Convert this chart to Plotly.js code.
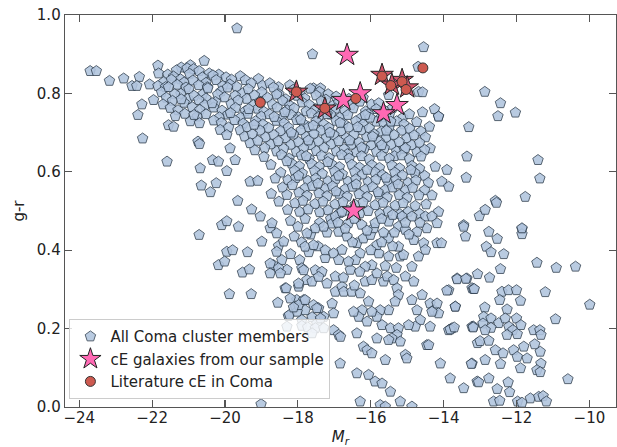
<!DOCTYPE html>
<html>
<head>
<meta charset="utf-8">
<script src="https://cdn.plot.ly/plotly-3.0.1.min.js"></script>
<style>
  html, body { margin: 0; padding: 0; background: #ffffff; }
  #chart { width: 617px; height: 447px; }
</style>
</head>
<body>
<div id="chart"></div>
<script>
// Coma cluster members: [M_r, g-r]
// Bright red sequence, including the luminous end
const redSequence = [
  [-21.84,0.871],[-20.95,0.872],[-20.57,0.883],[-21.20,0.866],
  [-23.70,0.857],[-23.53,0.857],[-21.82,0.851],[-21.33,0.859],[-21.04,0.864],[-20.86,0.862],[-20.71,0.857],[-20.43,0.851],[-20.17,0.848],
  [-22.35,0.842],[-21.57,0.848],[-21.41,0.843],[-21.22,0.836],[-20.97,0.850],[-20.62,0.841],[-20.33,0.846],[-19.97,0.841],[-19.58,0.844],[-19.82,0.835],
  [-23.17,0.832],[-22.78,0.838],[-21.68,0.829],[-21.47,0.835],[-21.12,0.828],[-20.88,0.833],[-20.52,0.827],[-20.24,0.834],[-19.87,0.823],[-19.44,0.834],[-19.08,0.837],[-19.28,0.826],
  [-22.55,0.819],[-22.42,0.819],[-22.07,0.823],[-21.84,0.819],[-21.63,0.816],[-21.31,0.822],[-21.07,0.815],[-20.72,0.821],[-20.48,0.816],[-20.06,0.819],[-19.68,0.817],[-18.97,0.820],[-18.53,0.816],[-18.22,0.821],[-17.57,0.813],[-17.38,0.813],[-18.77,0.826],
  [-21.74,0.803],[-21.55,0.816],[-21.21,0.799],[-20.99,0.811],[-20.62,0.797],[-20.47,0.813],[-20.11,0.805],[-19.93,0.815],[-19.52,0.800],[-19.36,0.811],[-18.99,0.803],[-18.67,0.815],[-18.52,0.798],[-18.13,0.809],[-17.94,0.801],[-17.66,0.812],[-17.41,0.804],[-17.17,0.798],
  [-21.96,0.783],[-21.61,0.789],[-21.38,0.798],[-21.02,0.786],[-20.85,0.794],[-20.52,0.787],[-20.20,0.797],[-20.01,0.790],[-19.72,0.794],[-19.40,0.786],[-19.19,0.795],[-18.83,0.789],[-18.58,0.797],[-18.33,0.785],[-18.02,0.794],[-17.81,0.787],[-17.50,0.795],[-17.23,0.784],[-16.95,0.792],[-16.60,0.786],[-16.21,0.789],
  [-21.70,0.772],[-21.44,0.781],[-21.12,0.776],[-20.72,0.783],[-20.55,0.770],[-20.26,0.778],[-19.83,0.773],[-19.64,0.782],[-19.22,0.770],[-19.05,0.779],[-18.70,0.772],[-18.42,0.781],[-18.22,0.769],[-17.88,0.777],[-17.69,0.771],[-17.36,0.780],[-17.05,0.768],[-16.88,0.777],[-16.55,0.770],[-16.30,0.779],[-15.98,0.772],[-15.51,0.796],[-15.78,0.775],
  [-22.28,0.772],[-21.50,0.763],[-21.29,0.757],[-20.90,0.765],[-20.69,0.758],[-20.31,0.764],[-20.08,0.756],[-19.71,0.763],[-19.44,0.755],[-19.10,0.761],[-18.93,0.753],[-18.57,0.764],[-18.29,0.757],[-18.10,0.762],[-17.77,0.754],[-17.51,0.760],[-17.31,0.753],[-16.97,0.761],[-16.71,0.755],[-16.48,0.762],[-16.14,0.754],[-15.85,0.760],[-15.62,0.756],[-15.40,0.763],
  [-22.39,0.745],[-21.36,0.742],[-21.10,0.748],[-20.76,0.741],[-20.52,0.747],[-20.15,0.739],[-19.92,0.746],[-19.57,0.738],[-19.37,0.748],[-19.00,0.741],[-18.78,0.747],[-18.45,0.737],[-18.18,0.745],[-17.98,0.739],[-17.63,0.749],[-17.43,0.740],[-17.10,0.746],[-16.85,0.738],[-16.63,0.745],[-16.27,0.737],[-16.07,0.747],[-15.71,0.739],[-15.49,0.745],[-15.12,0.738],[-14.94,0.747],[-14.58,0.752],[-14.25,0.760],
  [-21.55,0.719],[-21.41,0.715],[-20.95,0.729],[-20.70,0.724],[-20.31,0.731],[-20.10,0.725],[-19.74,0.732],[-19.50,0.723],[-19.16,0.729],[-18.96,0.721],[-18.59,0.730],[-18.38,0.724],[-18.03,0.732],[-17.84,0.722],[-17.50,0.729],[-17.29,0.721],[-16.95,0.730],[-16.75,0.723],[-16.41,0.729],[-16.21,0.721],[-15.85,0.728],[-15.64,0.722],[-15.29,0.729],[-15.09,0.721],[-14.74,0.727],[-14.14,0.741],
  [-20.13,0.707],[-19.90,0.713],[-19.58,0.706],[-19.39,0.714],[-19.03,0.705],[-18.80,0.712],[-18.47,0.704],[-18.26,0.713],[-17.91,0.706],[-17.70,0.714],[-17.36,0.705],[-17.15,0.712],[-16.81,0.704],[-16.60,0.713],[-16.26,0.706],[-16.04,0.711],[-15.70,0.703],[-15.50,0.712],[-15.15,0.705],[-14.93,0.710],[-14.62,0.703],[-14.39,0.715],[-13.31,0.714],
  [-19.95,0.694],[-19.46,0.690],[-19.25,0.696],[-18.88,0.688],[-18.66,0.694],[-18.33,0.686],[-18.12,0.695],[-17.77,0.689],[-17.56,0.697],[-17.22,0.687],[-17.01,0.694],[-16.67,0.686],[-16.46,0.695],[-16.11,0.688],[-15.91,0.696],[-15.57,0.687],[-15.36,0.694],[-15.01,0.686],[-14.81,0.693],[-14.50,0.688],
  [-22.26,0.685],[-20.74,0.677],[-20.70,0.671],[-19.31,0.673],[-19.10,0.679],[-18.74,0.670],[-18.54,0.678],[-18.19,0.669],[-17.98,0.676],[-17.64,0.668],[-17.43,0.677],[-17.08,0.670],[-16.88,0.678],[-16.53,0.669],[-16.32,0.675],[-15.98,0.668],[-15.77,0.677],[-15.43,0.669],[-15.22,0.676],[-14.87,0.668],[-14.66,0.674],[-14.37,0.660],
  [-19.86,0.660],[-19.18,0.655],[-18.91,0.661],[-18.58,0.652],[-18.39,0.659],[-18.04,0.651],[-17.84,0.660],[-17.49,0.653],[-17.28,0.661],[-16.94,0.652],[-16.73,0.658],[-16.39,0.650],[-16.18,0.659],[-15.84,0.651],[-15.63,0.660],[-15.29,0.652],[-15.08,0.658],[-14.73,0.650],[-14.52,0.656],
  [-18.36,0.752],[-17.92,0.733],[-17.58,0.718],[-17.20,0.747],[-16.84,0.725],[-16.36,0.714],[-16.02,0.738],[-15.57,0.705],[-15.95,0.690],[-16.58,0.680],
  [-17.12,0.700],[-17.71,0.680],[-18.18,0.700],[-18.65,0.740],[-16.25,0.662],[-15.70,0.668],[-15.35,0.640],[-16.64,0.645],[-15.05,0.660],[-15.45,0.728],
  [-16.15,0.745],[-19.35,0.760],[-19.85,0.750],[-20.35,0.775],[-20.85,0.745],[-21.20,0.785],[-19.20,0.720]
];

// Transition region between the sequences
const greenValley = [
  [-19.72,0.630],[-18.93,0.638],[-18.45,0.643],[-18.24,0.634],[-17.90,0.642],[-17.69,0.633],[-17.35,0.641],[-17.14,0.635],[-16.80,0.643],[-16.59,0.634],[-16.25,0.640],[-16.04,0.632],[-15.70,0.641],[-15.49,0.634],[-15.15,0.642],[-14.94,0.633],[-14.62,0.639],[-13.36,0.639],
  [-21.59,0.626],[-20.34,0.630],[-20.18,0.626],[-18.74,0.618],[-18.17,0.621],[-17.96,0.614],[-17.62,0.620],[-17.41,0.613],[-17.07,0.619],[-16.86,0.612],[-16.52,0.618],[-16.31,0.611],[-15.97,0.617],[-15.76,0.610],[-15.42,0.616],[-15.21,0.609],[-14.87,0.615],[-14.66,0.608],[-14.23,0.613],
  [-20.68,0.609],[-19.95,0.602],[-18.47,0.598],[-18.09,0.603],[-17.88,0.596],[-17.54,0.602],[-17.33,0.595],[-16.99,0.601],[-16.78,0.594],[-16.44,0.600],[-16.23,0.593],[-15.89,0.599],[-15.68,0.592],[-15.34,0.598],[-15.13,0.591],[-14.79,0.597],[-14.52,0.590],[-13.91,0.605],
  [-19.31,0.575],[-19.10,0.577],[-18.62,0.583],[-18.27,0.579],[-18.06,0.584],[-17.72,0.577],[-17.51,0.583],[-17.17,0.576],[-16.96,0.582],[-16.62,0.575],[-16.41,0.581],[-16.07,0.574],[-15.86,0.580],[-15.52,0.573],[-15.31,0.579],[-14.97,0.572],[-14.76,0.578],[-14.42,0.572],[-14.05,0.575],[-13.38,0.585],
  [-20.65,0.565],[-20.24,0.571],[-18.42,0.560],[-18.15,0.566],[-17.80,0.558],[-17.60,0.564],[-17.25,0.557],[-17.05,0.563],[-16.70,0.556],[-16.50,0.562],[-16.15,0.555],[-15.95,0.561],[-15.60,0.554],[-15.40,0.560],[-15.05,0.553],[-14.85,0.559],[-14.52,0.553],[-13.86,0.562],
  [-20.40,0.548],[-18.73,0.544],[-18.30,0.541],[-17.97,0.547],[-17.75,0.539],[-17.42,0.545],[-17.20,0.538],[-16.87,0.544],[-16.65,0.537],[-16.32,0.543],[-16.10,0.536],[-15.77,0.542],[-15.55,0.535],[-15.22,0.541],[-15.00,0.534],[-14.68,0.540],[-14.32,0.540],
  [-19.65,0.526],[-18.52,0.524],[-18.08,0.520],[-17.86,0.526],[-17.53,0.518],[-17.31,0.524],[-16.98,0.517],[-16.76,0.523],[-16.43,0.516],[-16.21,0.522],[-15.88,0.515],[-15.66,0.521],[-15.33,0.514],[-15.11,0.520],[-14.78,0.513],[-14.48,0.517],
  [-19.27,0.504],[-18.28,0.503],[-17.95,0.498],[-17.72,0.504],[-17.40,0.497],[-17.17,0.502],[-16.85,0.495],[-16.62,0.501],[-16.30,0.494],[-16.07,0.500],[-15.75,0.493],[-15.52,0.499],[-15.20,0.492],[-14.97,0.498],[-14.66,0.493],[-14.14,0.498],
  [-17.18,0.625],[-17.77,0.640],[-18.30,0.627],[-16.10,0.605],[-15.58,0.585],[-16.88,0.590],[-17.45,0.570],[-17.98,0.590],[-16.40,0.568],[-15.80,0.548],
  [-16.95,0.550],[-15.25,0.568],[-14.90,0.605]
];

// Blue cloud
const blueCloud = [
  [-20.71,0.439],[-20.09,0.464],[-19.95,0.474],[-19.63,0.460],[-19.95,0.396],[-19.79,0.400],[-19.38,0.395],[-20.18,0.362],[-20.01,0.371],[-19.52,0.343],[-19.33,0.351],[-19.88,0.288],[-19.28,0.288],[-19.03,0.486],
  [-18.76,0.456],[-18.58,0.443],[-18.71,0.469],[-18.99,0.422],[-18.53,0.411],[-18.39,0.422],[-18.20,0.475],[-18.00,0.460],[-17.80,0.480],[-18.10,0.435],[-17.90,0.420],[-17.65,0.440],[-17.40,0.470],[-17.20,0.445],[-17.10,0.480],
  [-17.70,0.395],[-17.45,0.410],[-17.25,0.380],[-17.95,0.375],[-18.20,0.390],[-18.44,0.375],[-18.67,0.362],[-18.76,0.341],[-18.30,0.350],[-17.89,0.354],[-17.52,0.349],[-17.34,0.345],[-17.75,0.324],[-18.35,0.303],[-17.98,0.307],
  [-18.55,0.266],[-18.03,0.273],[-17.84,0.273],[-17.57,0.260],[-17.43,0.252],[-18.07,0.256],[-18.26,0.232],[-17.61,0.229],[-17.29,0.230],[-17.48,0.213],[-17.80,0.247],[-17.02,0.239],[-18.53,0.354],[-18.48,0.341],[-18.32,0.303],
  [-18.23,0.235],[-18.02,0.243],[-17.98,0.260],[-17.98,0.315],[-18.21,0.277],[-18.12,0.254],[-17.89,0.222],[-18.76,0.366],[-18.58,0.396],
  [-17.75,0.443],[-17.52,0.456],[-17.29,0.460],[-17.06,0.468],[-17.80,0.409],[-17.57,0.413],[-17.25,0.400],[-17.02,0.392],[-17.84,0.349],[-17.61,0.320],[-17.43,0.332],[-17.20,0.315],[-16.97,0.294],[-17.80,0.273],[-17.48,0.252],[-17.06,0.264],[-17.38,0.226],
  [-18.30,0.205],[-17.89,0.207],[-17.73,0.203],[-17.52,0.201],[-17.29,0.201],[-17.61,0.188],[-17.02,0.196],
  [-16.97,0.486],[-16.79,0.498],[-16.61,0.469],[-16.88,0.447],[-16.65,0.435],[-16.38,0.418],[-16.20,0.430],[-16.01,0.439],[-15.92,0.456],[-15.88,0.469],[-15.51,0.473],[-15.51,0.430],[-15.24,0.460],[-15.14,0.486],[-15.05,0.452],
  [-14.87,0.486],[-14.73,0.447],[-14.82,0.426],[-14.50,0.486],[-14.46,0.456],[-14.32,0.486],[-14.18,0.469],[-14.18,0.418],[-14.06,0.418],[-14.55,0.418],[-14.50,0.401],[-14.69,0.384],[-14.87,0.358],[-15.19,0.384],[-15.10,0.388],
  [-15.24,0.409],[-15.51,0.384],[-15.78,0.392],[-15.83,0.413],[-15.97,0.362],[-16.15,0.358],[-16.29,0.392],[-16.42,0.375],[-16.56,0.350],[-16.61,0.371],[-16.79,0.401],[-16.88,0.375],[-16.97,0.333],[-16.79,0.307],[-16.74,0.294],
  [-16.52,0.294],[-16.29,0.290],[-16.15,0.320],[-15.97,0.324],[-15.83,0.341],[-15.65,0.320],[-15.55,0.333],[-15.37,0.324],[-15.28,0.303],[-15.24,0.286],[-15.33,0.269],[-15.51,0.247],[-15.74,0.247],[-15.83,0.230],[-15.97,0.243],
  [-16.06,0.269],[-16.24,0.247],[-16.33,0.230],[-16.47,0.243],[-16.10,0.218],[-15.69,0.209],[-15.46,0.201],[-15.24,0.201],[-15.28,0.184],[-15.19,0.167],[-15.42,0.175],[-15.05,0.333],[-14.82,0.320],[-14.59,0.286],[-14.37,0.264],
  [-14.27,0.247],[-14.18,0.264],[-14.14,0.239],[-14.32,0.243],[-14.87,0.273],[-14.73,0.247],[-14.64,0.222],[-14.37,0.205],[-14.78,0.205],[-14.96,0.209],
  [-16.90,0.470],[-16.70,0.455],[-16.45,0.480],[-16.25,0.465],[-16.10,0.450],[-15.70,0.480],[-15.65,0.445],[-15.40,0.490],[-15.35,0.445],[-15.05,0.470],[-14.95,0.440],[-14.65,0.470],[-16.50,0.420],[-16.00,0.400],[-15.70,0.420],
  [-15.40,0.410],[-15.60,0.360],[-15.30,0.355],[-16.30,0.345],[-16.75,0.330],[-16.45,0.310]
];

// Faint end, low luminosity members
const faintEnd = [
  [-16.88,0.184],[-16.83,0.179],[-16.38,0.188],[-16.20,0.154],[-16.10,0.145],[-15.97,0.137],[-15.83,0.175],[-15.60,0.120],[-15.51,0.171],[-15.05,0.133],[-15.01,0.124],[-14.46,0.158],[-14.09,0.111],[-13.82,0.073],[-13.45,0.048],
  [-13.22,0.111],[-16.38,0.086],[-16.06,0.082],[-15.88,0.065],[-15.69,0.060],[-15.46,0.039],[-16.29,0.014],[-15.74,0.005],[-15.60,0.001],[-15.19,0.014],[-14.87,0.001],[-16.84,0.111],[-14.41,0.158],[-19.01,0.007],
  [-13.77,0.201],[-13.86,0.196],[-13.68,0.256],[-13.86,0.298],[-13.63,0.328],[-13.36,0.328],[-13.45,0.464],[-13.40,0.435],[-13.22,0.303],[-13.22,0.205],
  [-13.63,0.326],[-13.39,0.327],[-13.91,0.297],[-13.18,0.301],[-13.68,0.256],[-13.18,0.205],[-13.82,0.198],[-13.71,0.203],[-13.08,0.065],
  [-13.02,0.487],[-12.76,0.447],[-12.53,0.429],[-11.85,0.454],[-11.85,0.441],[-12.83,0.409],[-12.70,0.395],[-12.35,0.390],[-11.44,0.368],[-10.91,0.355],[-10.38,0.358],[-12.44,0.352],[-13.07,0.339],[-12.74,0.330],[-13.16,0.301],
  [-12.40,0.294],[-12.22,0.298],[-12.00,0.298],[-12.46,0.273],[-11.89,0.271],[-11.21,0.293],[-9.99,0.261],[-12.87,0.254],[-12.26,0.249],[-10.93,0.224],[-12.90,0.230],[-12.70,0.226],[-12.49,0.214],[-12.31,0.226],[-12.00,0.226],
  [-12.92,0.213],[-12.70,0.202],[-12.86,0.196],[-13.19,0.203],[-12.21,0.205],[-12.10,0.196],[-11.88,0.209],[-12.26,0.184],[-11.98,0.186],[-11.53,0.196],[-11.36,0.196],[-11.33,0.184],[-13.07,0.163],[-13.00,0.168],[-12.76,0.169],
  [-12.58,0.145],[-12.37,0.137],[-12.08,0.145],[-11.80,0.154],[-11.71,0.124],[-11.89,0.099],[-11.98,0.128],[-11.50,0.160],[-11.35,0.141],[-11.33,0.111],[-11.44,0.094],[-11.35,0.089],[-13.24,0.110],[-12.86,0.120],[-12.44,0.110],
  [-10.59,0.071],[-13.04,0.063],[-12.76,0.073],[-12.53,0.046],[-12.23,0.063],[-12.19,0.038],[-12.63,0.014],[-12.46,0.016],[-11.97,0.014],[-11.85,0.011],[-11.62,0.022],[-11.39,0.026],[-11.27,0.028],[-11.18,0.014]
];

// Isolated members well off the main loci
const outliers = [
  [-19.67,0.966],[-17.60,0.900],[-14.55,0.918],[-14.70,0.868],[-14.69,0.804],[-14.58,0.803],[-14.14,0.741],
  [-12.87,0.804],[-12.44,0.775],[-12.51,0.742],[-12.03,0.751],[-11.41,0.630],[-11.36,0.583],[-11.76,0.536],[-12.58,0.526],[-12.55,0.521],
  [-12.86,0.503],[-13.45,0.460],[-11.85,0.456]
];

// cE galaxies from our sample, with whether each was already reported in the literature
const sampleMr = [-16.65, -18.04, -17.26, -16.75, -16.29, -15.69, -15.14, -15.00, -15.42, -15.28, -15.65, -16.47];
const sampleGR = [ 0.898,  0.804,  0.761,  0.783,  0.800,  0.847,  0.834,  0.815,  0.822,  0.770,  0.749,  0.501];
const sampleKnown = [false, true, true, false, false, true, true, true, true, false, false, false];

// Literature cE galaxies in Coma
const litMr = [-19.03, -18.04, -17.26, -16.41, -15.69, -15.45, -15.14, -15.03, -14.57];
const litGR = [ 0.777,  0.804,  0.762,  0.787,  0.844,  0.820,  0.830,  0.810,  0.865];

const xTicks = [-24, -22, -20, -18, -16, -14, -12, -10];
const yTicks = [0.0, 0.2, 0.4, 0.6, 0.8, 1.0];

const members = redSequence.concat(greenValley, blueCloud, faintEnd, outliers);
const FONT = 'DejaVu Sans, Liberation Sans, sans-serif';

const traces = [
  {
    type: 'scatter', mode: 'markers', name: 'All Coma cluster members',
    x: members.map(p => p[0]), y: members.map(p => p[1]),
    marker: { symbol: 'pentagon', size: 11, color: '#b0c4de', opacity: 0.88,
              line: { color: '#2e3d4d', width: 0.9 } },
    hoverinfo: 'skip'
  },
  {
    type: 'scatter', mode: 'markers', name: 'cE galaxies from our sample',
    x: sampleMr, y: sampleGR,
    marker: { symbol: 'star', size: 17,
              color: sampleKnown.map(k => k ? '#d4566f' : '#ff69b4'),
              line: { color: '#222222', width: 1 } },
    hoverinfo: 'skip'
  },
  {
    type: 'scatter', mode: 'markers', name: 'Literature cE in Coma',
    x: litMr, y: litGR,
    marker: { symbol: 'circle', size: 10, color: '#cd5a50',
              line: { color: '#333333', width: 1 } },
    hoverinfo: 'skip'
  }
];

const axisCommon = {
  showgrid: false, zeroline: false,
  showline: true, linecolor: '#555555', linewidth: 1.3,
  mirror: 'ticks', ticks: 'inside', ticklen: 7, tickwidth: 1.1, tickcolor: '#555555',
  tickfont: { family: FONT, size: 15, color: '#222222' }
};

const layout = {
  width: 617, height: 447,
  margin: { l: 65, r: 1, t: 15, b: 40 },
  paper_bgcolor: '#ffffff', plot_bgcolor: '#ffffff',
  font: { family: FONT, size: 15, color: '#222222' },
  showlegend: true,
  legend: {
    x: 0.008, y: 0.02, xanchor: 'left', yanchor: 'bottom',
    bgcolor: 'rgba(255,255,255,0.8)', bordercolor: '#cccccc', borderwidth: 1,
    font: { family: FONT, size: 15, color: '#222222' }
  },
  xaxis: Object.assign({}, axisCommon, {
    range: [-24.39, -9.27], tickmode: 'array', tickvals: xTicks,
    ticklabelstandoff: -3,
    title: { text: '<i>M</i><sub><i>r</i></sub>', font: { family: FONT, size: 15, color: '#222222' }, standoff: 6 }
  }),
  yaxis: Object.assign({}, axisCommon, {
    range: [0, 1.0], tickmode: 'array', tickvals: yTicks, tickformat: '.1f',
    title: { text: 'g-r', font: { family: FONT, size: 15, color: '#222222' }, standoff: 8 }
  })
};

Plotly.newPlot('chart', traces, layout, { displayModeBar: false, staticPlot: true });
</script>
</body>
</html>
